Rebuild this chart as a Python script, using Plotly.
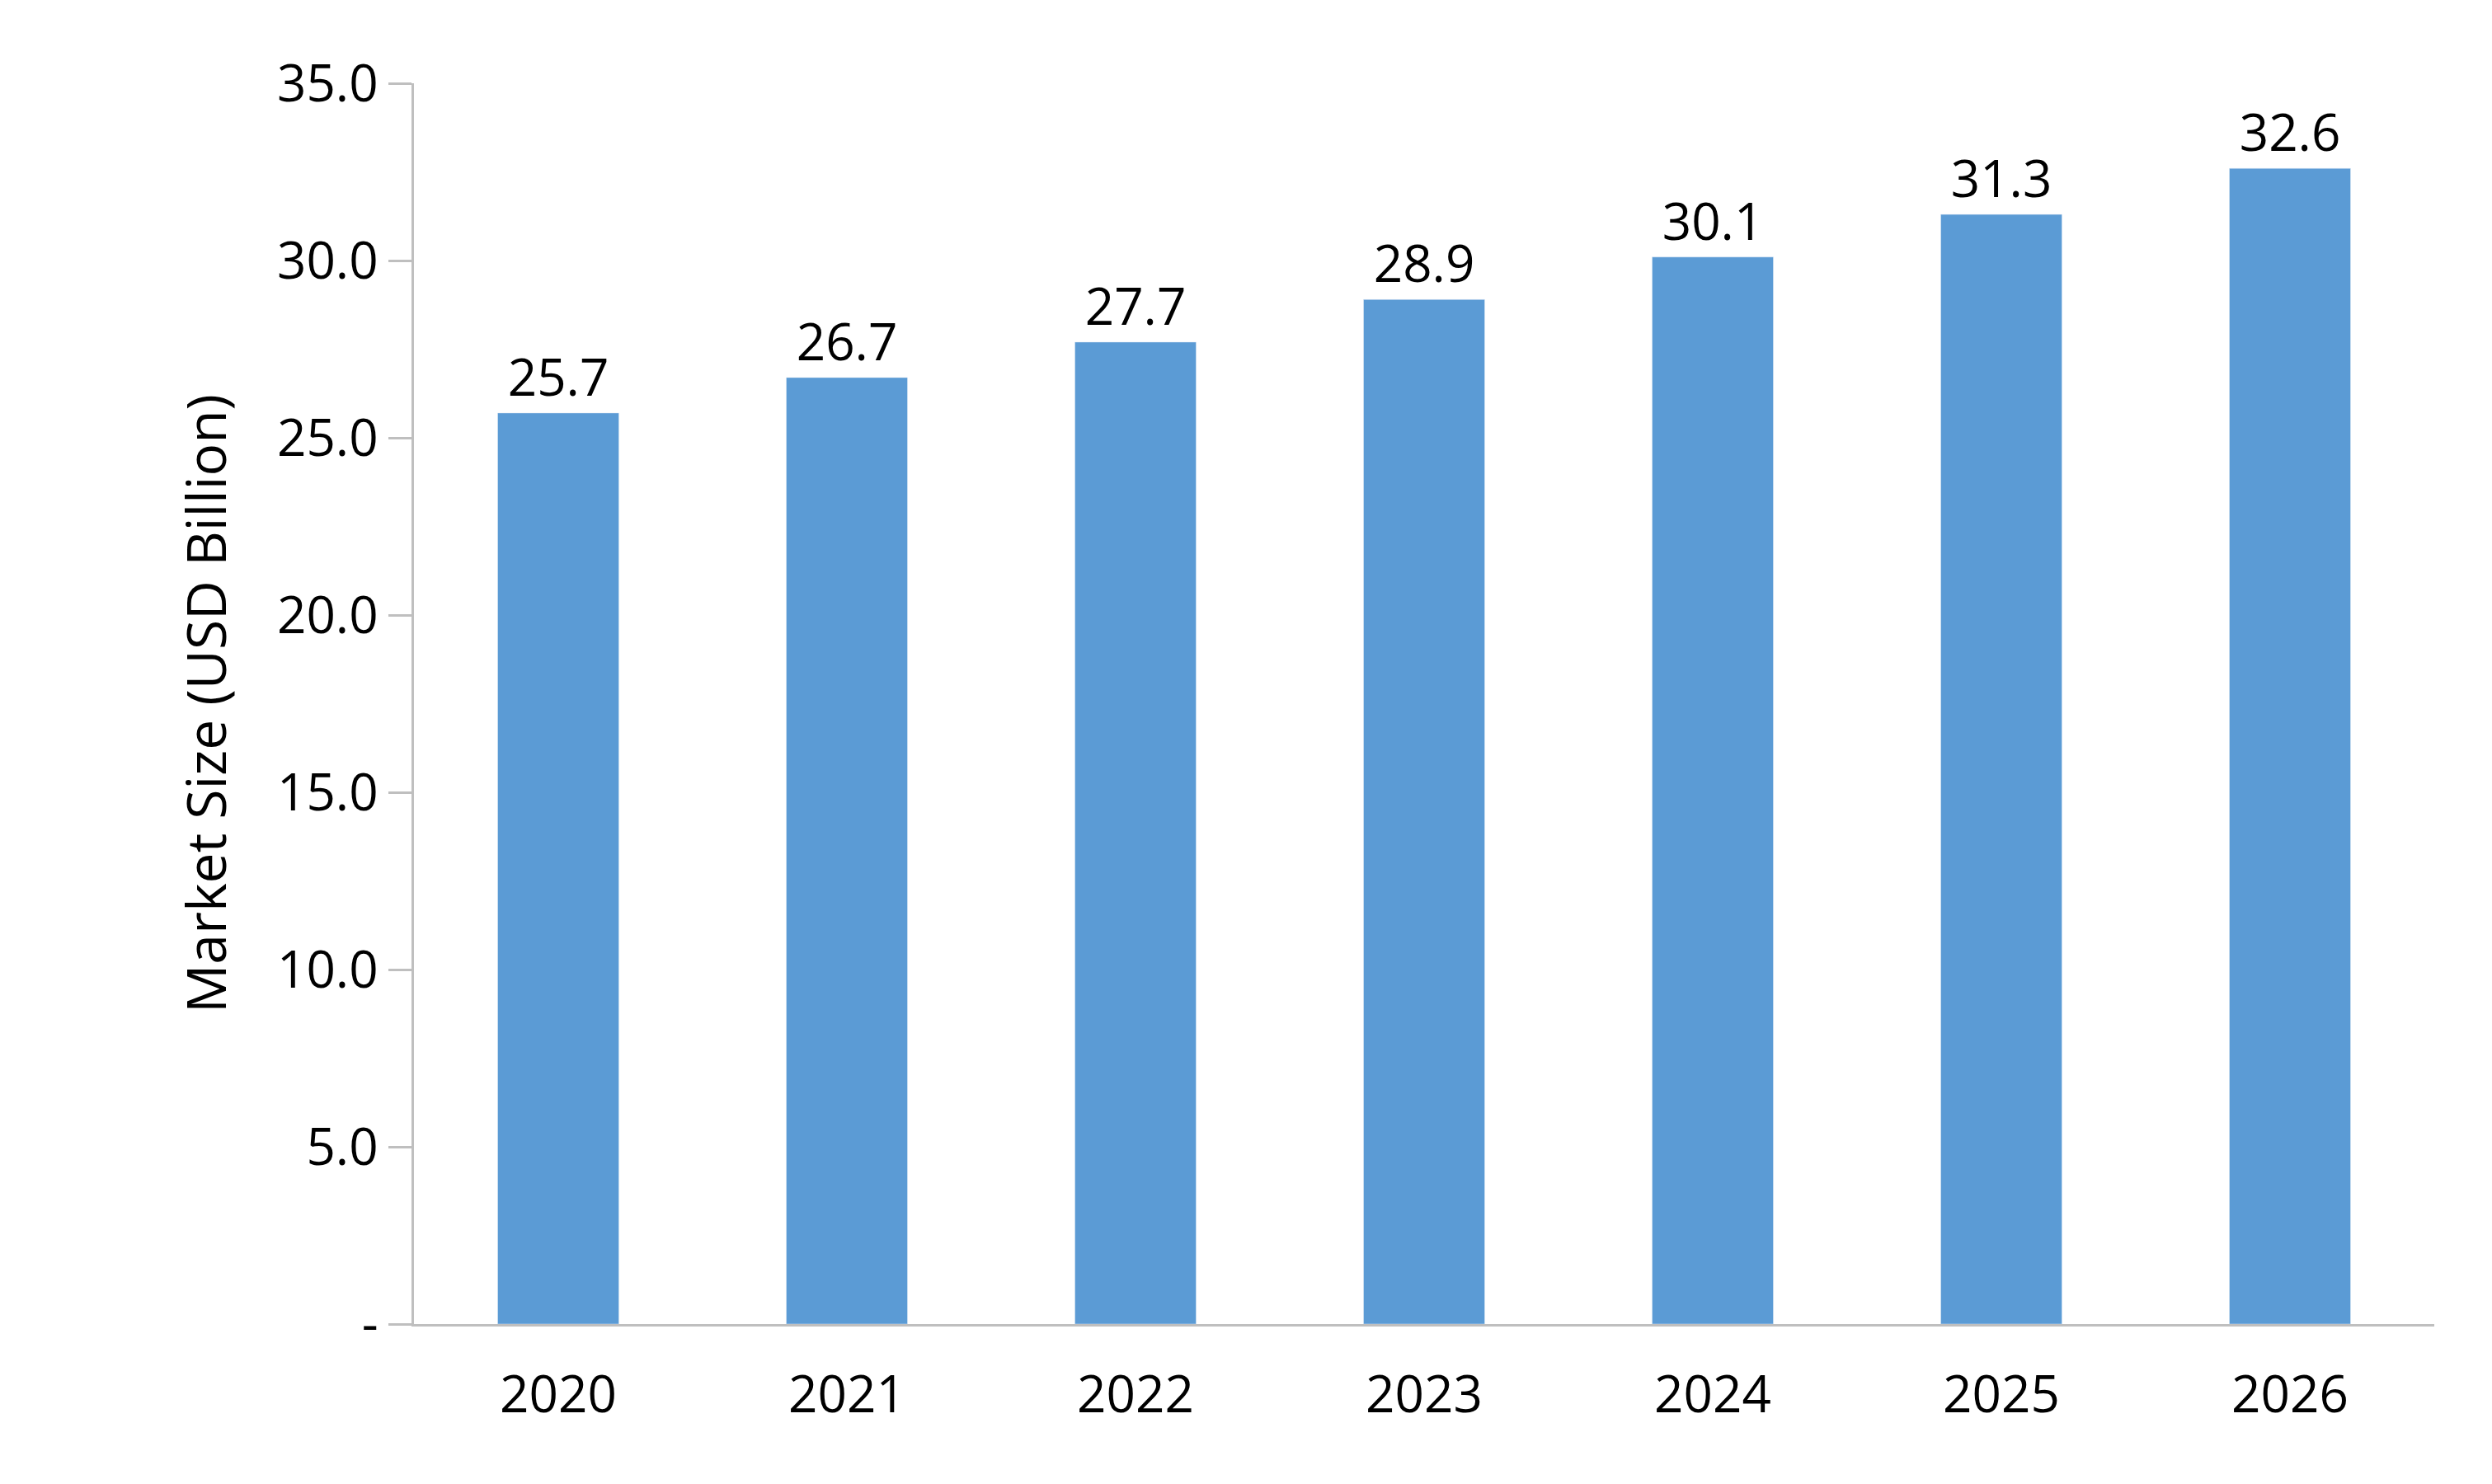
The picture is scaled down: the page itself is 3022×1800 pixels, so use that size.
import plotly.graph_objects as go

years = ["2020", "2021", "2022", "2023", "2024", "2025", "2026"]
market_size = [25.7, 26.7, 27.7, 28.9, 30.1, 31.3, 32.6]
tick_values = [0, 5, 10, 15, 20, 25, 30, 35]
tick_labels = ["-", "5.0", "10.0", "15.0", "20.0", "25.0", "30.0", "35.0"]

font_name = "Open Sans"

fig = go.Figure()
fig.add_trace(go.Bar(
    x=years, y=market_size,
    marker_color="#5B9BD5",
    width=0.42,
    text=[f"{v:.1f}" for v in market_size],
    textposition="outside",
    textfont=dict(size=62, color="black", family=font_name),
    cliponaxis=False,
))

fig.update_layout(
    width=3022, height=1800,
    paper_bgcolor="white", plot_bgcolor="white",
    margin=dict(l=494, r=78, t=93, b=202),
    showlegend=False,
    font=dict(family=font_name, color="black"),
)
fig.update_xaxes(
    showline=True, linecolor="#BFBFBF", linewidth=3,
    tickfont=dict(size=62), ticks="", ticklabelstandoff=30,
)
fig.update_yaxes(
    range=[0, 35], tickvals=tick_values, ticktext=tick_labels,
    showgrid=False, zeroline=False,
    showline=True, linecolor="#BFBFBF", linewidth=3,
    ticks="outside", ticklen=28, tickcolor="#BFBFBF", tickwidth=3,
    tickfont=dict(size=62),
    title=dict(text="Market Size (USD Billion)", font=dict(size=66), standoff=40),
)

fig.write_html("out.html")
